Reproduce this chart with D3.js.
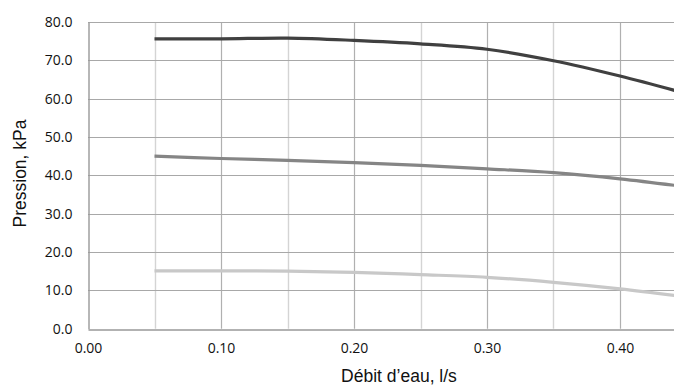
<!DOCTYPE html>
<html>
<head>
<meta charset="utf-8">
<script src="https://cdn.jsdelivr.net/npm/d3@7"></script>
<style>
  html, body { margin: 0; padding: 0; background: #fff; }
  svg { display: block; }
</style>
</head>
<body>
<svg id="chart" width="674" height="387"></svg>
<script>
const flow = [0.05, 0.10, 0.15, 0.20, 0.25, 0.30, 0.35, 0.40, 0.45];
const seriesHigh = [75.6, 75.6, 75.8, 75.2, 74.3, 72.9, 69.9, 65.9, 61.3];
const seriesMid  = [45.0, 44.4, 43.9, 43.3, 42.6, 41.7, 40.7, 39.1, 37.0];
const seriesLow  = [15.1, 15.1, 15.0, 14.7, 14.1, 13.4, 12.1, 10.4, 8.3];
const xTicks = [0.00, 0.10, 0.20, 0.30, 0.40];
const xMinorTicks = [0.05, 0.15, 0.25, 0.35, 0.45];
const yTicks = [0, 10, 20, 30, 40, 50, 60, 70, 80];
const seriesColors = ["#404040", "#858585", "#c8c8c8"];
const xTitle = "Débit d’eau, l/s";
const yTitle = "Pression, kPa";

(function () {
const svg = d3.select("#chart");
const pL = 88, pT = 22, pR = 686.5, pB = 328.7;
const x = d3.scaleLinear().domain([0, 0.45]).range([pL, pR]);
const y = d3.scaleLinear().domain([0, 80]).range([pB, pT]);

const tickFont = "'Open Sans', sans-serif";

// minor vertical gridlines
svg.append("g").selectAll("line").data(xMinorTicks).join("line")
  .attr("x1", d => Math.round(x(d)) + 0.5).attr("x2", d => Math.round(x(d)) + 0.5)
  .attr("y1", pT).attr("y2", pB)
  .attr("stroke", "#d4d4d4").attr("stroke-width", 1.4);

// major vertical gridlines
svg.append("g").selectAll("line").data(xTicks.slice(1)).join("line")
  .attr("x1", d => Math.round(x(d)) + 0.5).attr("x2", d => Math.round(x(d)) + 0.5)
  .attr("y1", pT).attr("y2", pB)
  .attr("stroke", "#b0b0b0").attr("stroke-width", 1.2);

// horizontal gridlines
svg.append("g").selectAll("line").data(yTicks.slice(1)).join("line")
  .attr("x1", pL).attr("x2", pR)
  .attr("y1", d => Math.round(y(d)) + 0.5).attr("y2", d => Math.round(y(d)) + 0.5)
  .attr("stroke", "#a8a8a8").attr("stroke-width", 1.2);

// axes
const xAxis = d3.axisBottom(x).tickValues(xTicks).tickSize(0).tickPadding(14)
  .tickFormat(d3.format(".2f"));
const gx = svg.append("g").attr("transform", `translate(0,${Math.round(pB) + 0.5})`).call(xAxis);
gx.select(".domain").attr("stroke", "#999").attr("stroke-width", 1.4);
gx.selectAll("text").attr("font-family", tickFont).attr("font-size", 14).attr("fill", "#111");

const yAxis = d3.axisLeft(y).tickValues(yTicks).tickSize(0).tickPadding(16)
  .tickFormat(d3.format(".1f"));
const gy = svg.append("g").attr("transform", `translate(${pL + 0.5},0)`).call(yAxis);
gy.select(".domain").attr("stroke", "#999").attr("stroke-width", 1.4);
gy.selectAll("text").attr("font-family", tickFont).attr("font-size", 14).attr("fill", "#111");

// series lines
const line = d3.line().x((d, i) => x(flow[i])).y(d => y(d)).curve(d3.curveCatmullRom.alpha(0.5));
[seriesHigh, seriesMid, seriesLow].forEach((s, i) => {
  svg.append("path").datum(s).attr("d", line)
    .attr("fill", "none").attr("stroke", seriesColors[i])
    .attr("stroke-width", 3.2).attr("stroke-linecap", "butt").attr("stroke-linejoin", "round");
});

// titles
svg.append("text").attr("x", 399).attr("y", 382).attr("text-anchor", "middle")
  .attr("font-family", "'Liberation Sans', Arial, sans-serif").attr("font-size", 17.5).attr("fill", "#111")
  .text(xTitle);
svg.append("text").attr("transform", "translate(26,173.5) rotate(-90)").attr("text-anchor", "middle")
  .attr("font-family", "'Liberation Sans', Arial, sans-serif").attr("font-size", 17.5).attr("fill", "#111")
  .text(yTitle);
})();
</script>
</body>
</html>
